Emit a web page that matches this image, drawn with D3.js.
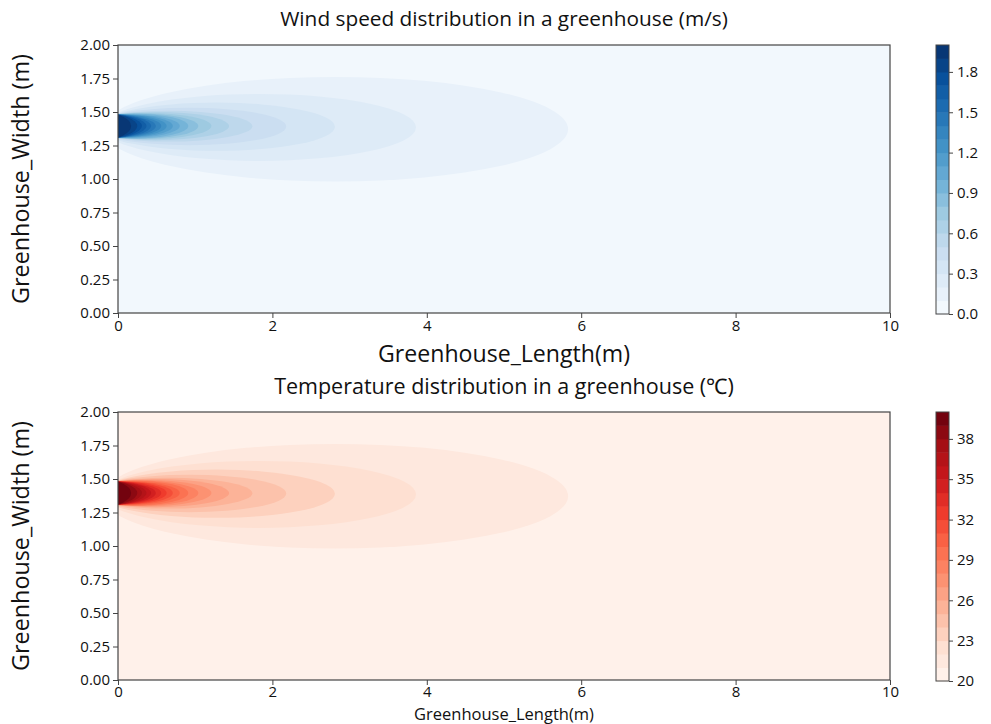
<!DOCTYPE html>
<html>
<head>
<meta charset="utf-8">
<script src="https://cdn.jsdelivr.net/npm/d3@7"></script>
<style>
  html, body { margin: 0; padding: 0; background: #ffffff; }
  svg text { font-family: "Open Sans", "Noto Sans", sans-serif; fill: #111; }
</style>
</head>
<body>
<svg id="chart" width="991" height="724"></svg>
<script>
// ---------------- data ----------------
const xTicks = [0, 2, 4, 6, 8, 10];
const yTicks = [0.00, 0.25, 0.50, 0.75, 1.00, 1.25, 1.50, 1.75, 2.00];

// contour level boundaries (21 boundaries -> 20 filled bands)
const windLevels = [0.000, 0.099, 0.198, 0.297, 0.396, 0.495, 0.594, 0.693, 0.792, 0.891,
                    0.990, 1.089, 1.188, 1.287, 1.386, 1.485, 1.584, 1.683, 1.782, 1.881, 1.980];
const tempLevels = [20.00, 20.99, 21.97, 22.96, 23.94, 24.93, 25.91, 26.90, 27.88, 28.87,
                    29.85, 30.84, 31.82, 32.81, 33.79, 34.78, 35.76, 36.75, 37.73, 38.72, 39.70];

const windTickValues = [0.000, 0.297, 0.594, 0.891, 1.188, 1.485, 1.782];
const windTickLabels = ["0.0", "0.3", "0.6", "0.9", "1.2", "1.5", "1.8"];
const tempTickValues = [20.00, 22.96, 25.91, 28.87, 31.82, 34.78, 37.73];
const tempTickLabels = ["20", "23", "26", "29", "32", "35", "38"];

// shape of each contour line (levels 1..19), in data units (m)
const contourCx = [2.814, 1.826, 1.275, 0.923, 0.653, 0.489, 0.357, 0.271, 0.205, 0.104,
                   0.034, -0.033, -0.099, -0.163, -0.184, -0.199, -0.207, -0.205, -0.170];
const contourRx = [3.016, 2.034, 1.535, 1.256, 1.088, 0.950, 0.853, 0.769, 0.705, 0.696,
                   0.676, 0.663, 0.659, 0.653, 0.614, 0.569, 0.517, 0.455, 0.340];
const contourRy = [0.390, 0.250, 0.180, 0.140, 0.115, 0.105, 0.098, 0.094, 0.092, 0.088,
                   0.087, 0.087, 0.087, 0.089, 0.090, 0.091, 0.093, 0.095, 0.097];
const contourCy = [1.372, 1.385, 1.390, 1.392, 1.394, 1.395, 1.395, 1.395, 1.395, 1.395,
                   1.395, 1.395, 1.395, 1.395, 1.395, 1.395, 1.395, 1.395, 1.395];

const panels = [
  { title: "Wind speed distribution in a greenhouse (m/s)", levels: windLevels,
    tickValues: windTickValues, tickLabels: windTickLabels, scheme: d3.schemeBlues[9],
    top: 45, titleY: 26, titleW: 448, xlabelY: 362, xlabelW: 252, xlabelMax: 30, xPad: 2 },
  { title: "Temperature distribution in a greenhouse (\u2103)", levels: tempLevels,
    tickValues: tempTickValues, tickLabels: tempTickLabels, scheme: d3.schemeReds[9],
    top: 412, titleY: 394, titleW: 460, xlabelY: 719.5, xlabelW: 252, xlabelMax: 16.5, xPad: 1 }
];

// ---------------- layout ----------------
const svg = d3.select("#chart");
const plotLeft = 118, plotRight = 890, plotH = 268;
const cbLeft = 936, cbW = 13;
const spine = "#444";

function fitText(sel, base, target, maxSize) {
  sel.style("font-size", base + "px");
  const w = sel.node().getComputedTextLength();
  let size = w > 0 ? base * target / w : base;
  if (maxSize !== undefined) size = Math.min(size, maxSize);
  sel.style("font-size", size.toFixed(2) + "px");
  return sel;
}

panels.forEach((p, pi) => {
  const top = p.top, bottom = top + plotH;
  const x = d3.scaleLinear().domain([0, 10]).range([plotLeft, plotRight]);
  const y = d3.scaleLinear().domain([0, 2]).range([bottom, top]);
  const lv = p.levels;
  const lmin = lv[0], lmax = lv[lv.length - 1];
  const cmap = d3.piecewise(d3.interpolateRgb, p.scheme);
  const bandColor = i => cmap(((lv[i] + lv[i + 1]) / 2 - lmin) / (lmax - lmin));

  const clipId = "clip" + pi;
  svg.append("clipPath").attr("id", clipId)
    .append("rect").attr("x", plotLeft).attr("y", top)
    .attr("width", plotRight - plotLeft).attr("height", plotH);

  const g = svg.append("g").attr("clip-path", `url(#${clipId})`);
  g.append("rect").attr("x", x(0)).attr("y", y(2))
    .attr("width", x(10) - x(0)).attr("height", y(0) - y(2))
    .attr("fill", bandColor(0));
  contourCx.forEach((cx, j) => {
    g.append("ellipse")
      .attr("cx", x(cx)).attr("cy", y(contourCy[j]))
      .attr("rx", x(contourRx[j]) - x(0))
      .attr("ry", y(0) - y(contourRy[j]))
      .attr("fill", bandColor(j + 1));
  });

  // axes
  const xAxis = d3.axisBottom(x).tickValues(xTicks).tickSize(5).tickPadding(p.xPad).tickFormat(d3.format("d"));
  const yAxis = d3.axisLeft(y).tickValues(yTicks).tickSize(5).tickPadding(3).tickFormat(d3.format(".2f"));
  const gx = svg.append("g").attr("transform", `translate(0,${bottom})`).call(xAxis);
  const gy = svg.append("g").attr("transform", `translate(${plotLeft},0)`).call(yAxis);
  [gx, gy].forEach(a => {
    a.select(".domain").remove();
    a.selectAll(".tick line").attr("stroke", spine);
    a.selectAll(".tick text").style("font-size", "15px").attr("fill", "#111");
  });
  svg.append("rect").attr("x", plotLeft).attr("y", top)
    .attr("width", plotRight - plotLeft).attr("height", plotH)
    .attr("fill", "none").attr("stroke", spine).attr("stroke-width", 1.2);

  // titles & labels
  fitText(svg.append("text").attr("x", (plotLeft + plotRight) / 2).attr("y", p.titleY)
    .attr("text-anchor", "middle").text(p.title), 19, p.titleW);
  fitText(svg.append("text").attr("x", (plotLeft + plotRight) / 2).attr("y", p.xlabelY)
    .attr("text-anchor", "middle").text("Greenhouse_Length(m)"), 20, p.xlabelW, p.xlabelMax);
  fitText(svg.append("text")
    .attr("transform", `translate(29,${(top + bottom) / 2}) rotate(-90)`)
    .attr("text-anchor", "middle").text("Greenhouse_Width (m)"), 20, 250);

  // colorbar
  const cy = d3.scaleLinear().domain([lmin, lmax]).range([bottom + 1, top]);
  const cb = svg.append("g");
  d3.range(lv.length - 1).forEach(i => {
    cb.append("rect").attr("x", cbLeft).attr("y", cy(lv[i + 1]))
      .attr("width", cbW).attr("height", cy(lv[i]) - cy(lv[i + 1]) + 0.5)
      .attr("fill", bandColor(i));
  });
  cb.append("rect").attr("x", cbLeft).attr("y", cy(lmax))
    .attr("width", cbW).attr("height", cy(lmin) - cy(lmax))
    .attr("fill", "none").attr("stroke", spine).attr("stroke-width", 1);
  const cAxis = d3.axisRight(cy).tickValues(p.tickValues).tickSize(4).tickPadding(4)
    .tickFormat((d, i) => p.tickLabels[i]);
  const gc = svg.append("g").attr("transform", `translate(${cbLeft + cbW},0)`).call(cAxis);
  gc.select(".domain").remove();
  gc.selectAll(".tick line").attr("stroke", spine);
  gc.selectAll(".tick text").style("font-size", "15px").attr("fill", "#111");
});
</script>
</body>
</html>
